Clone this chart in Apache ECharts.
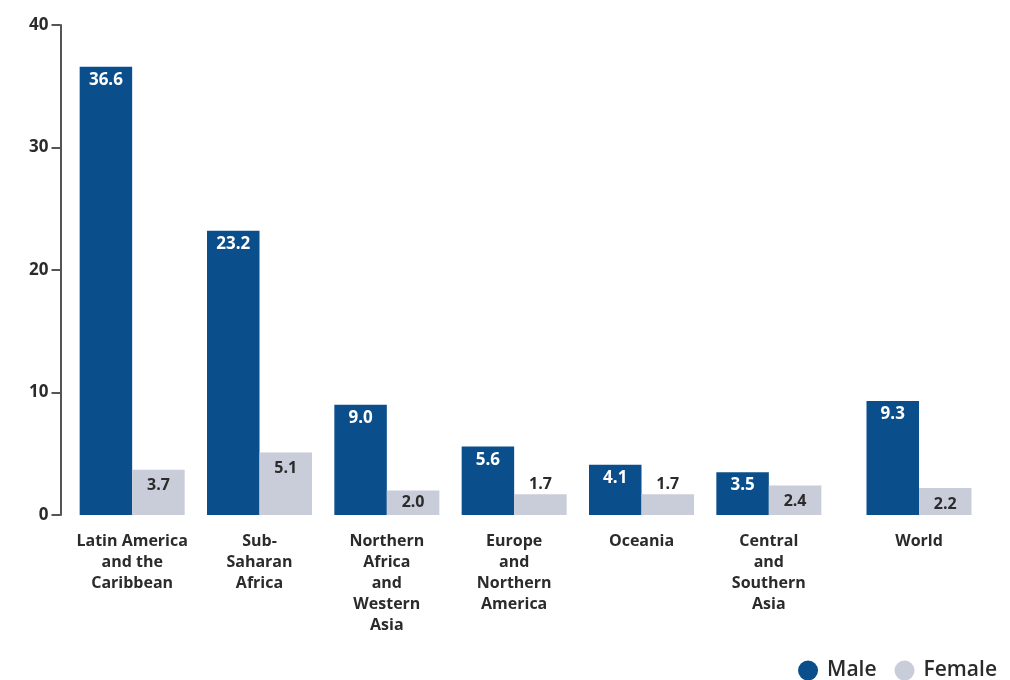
<!DOCTYPE html>
<html>
<head>
<meta charset="utf-8">
<script src="https://cdn.jsdelivr.net/npm/echarts@6/dist/echarts.min.js"></script>
<style>html,body{margin:0;padding:0;background:#fff}#c{width:1010px;height:680px}</style>
</head>
<body>
<div id="c"></div>
<script>
const categories = ["Latin America\nand the\nCaribbean", "Sub-\nSaharan\nAfrica", "Northern\nAfrica\nand\nWestern\nAsia", "Europe\nand\nNorthern\nAmerica", "Oceania", "Central\nand\nSouthern\nAsia", "World"];
const male = [36.6, 23.2, 9.0, 5.6, 4.1, 3.5, 9.3];
const female = [3.7, 5.1, 2.0, 1.7, 1.7, 2.4, 2.2];
const yTicks = [0, 10, 20, 30, 40];

const FONT = "'Open Sans', 'Noto Sans', sans-serif";
const MALE_C = '#0a4f8b';
const FEMALE_C = '#c9ccd9';
const nRegions = 6;

function femaleItems(arr) {
  return arr.map(v => ({
    value: v,
    label: v < 1.9 ? { position: 'top', distance: 2 } : (v < 2.1 ? { position: 'inside' } : {})
  }));
}

const maleLabel = { show: true, position: 'insideTop', distance: 5, color: '#fff', fontSize: 17, fontWeight: 'bold', fontFamily: FONT, formatter: p => Number(p.value).toFixed(1) };
const femaleLabel = { show: true, position: 'insideTop', distance: 8, color: '#2b2b2b', fontSize: 16, fontWeight: 'bold', fontFamily: FONT, formatter: p => Number(p.value).toFixed(1) };

const xCommon = {
  type: 'category',
  axisLine: { show: false },
  axisTick: { show: false },
  axisLabel: { interval: 0, color: '#2b2b2b', fontSize: 16, fontWeight: 'bold', fontFamily: FONT, lineHeight: 21, margin: 16 }
};

const chart = echarts.init(document.getElementById('c'));
chart.setOption({
  animation: false,
  legend: {
    data: ['Male', 'Female'],
    right: 8, top: 655,
    icon: 'circle', itemWidth: 20, itemHeight: 20, itemGap: 18,
    textStyle: { fontSize: 21, color: '#2b2b2b', fontFamily: FONT, fontWeight: 600, padding: [0, 0, 0, 4] }
  },
  grid: [
    { left: 68.5, width: 764, top: 25, bottom: 165 },
    { left: 855.5, width: 127, top: 25, bottom: 165 }
  ],
  xAxis: [
    Object.assign({ gridIndex: 0, data: categories.slice(0, nRegions) }, xCommon),
    Object.assign({ gridIndex: 1, data: categories.slice(nRegions) }, xCommon)
  ],
  yAxis: [
    {
      gridIndex: 0, type: 'value', min: yTicks[0], max: yTicks[yTicks.length - 1], interval: 10, offset: 8,
      axisLine: { show: true, lineStyle: { color: '#555', width: 2 } },
      axisTick: { show: true, length: 9, lineStyle: { color: '#555', width: 2 } },
      splitLine: { show: false },
      axisLabel: { color: '#2b2b2b', fontSize: 17, fontWeight: 'bold', fontFamily: FONT, margin: 12 }
    },
    {
      gridIndex: 1, type: 'value', min: yTicks[0], max: yTicks[yTicks.length - 1], interval: 10, show: false,
      splitLine: { show: false }
    }
  ],
  series: [
    { name: 'Male', type: 'bar', xAxisIndex: 0, yAxisIndex: 0, data: male.slice(0, nRegions), barWidth: 52.5, barGap: '0%', itemStyle: { color: MALE_C }, label: maleLabel },
    { name: 'Female', type: 'bar', xAxisIndex: 0, yAxisIndex: 0, data: femaleItems(female.slice(0, nRegions)), barWidth: 52.5, barGap: '0%', itemStyle: { color: FEMALE_C }, label: femaleLabel },
    { name: 'Male', type: 'bar', xAxisIndex: 1, yAxisIndex: 1, data: male.slice(nRegions), barWidth: 52.5, barGap: '0%', itemStyle: { color: MALE_C }, label: maleLabel },
    { name: 'Female', type: 'bar', xAxisIndex: 1, yAxisIndex: 1, data: femaleItems(female.slice(nRegions)), barWidth: 52.5, barGap: '0%', itemStyle: { color: FEMALE_C }, label: femaleLabel }
  ]
});
</script>
</body>
</html>
